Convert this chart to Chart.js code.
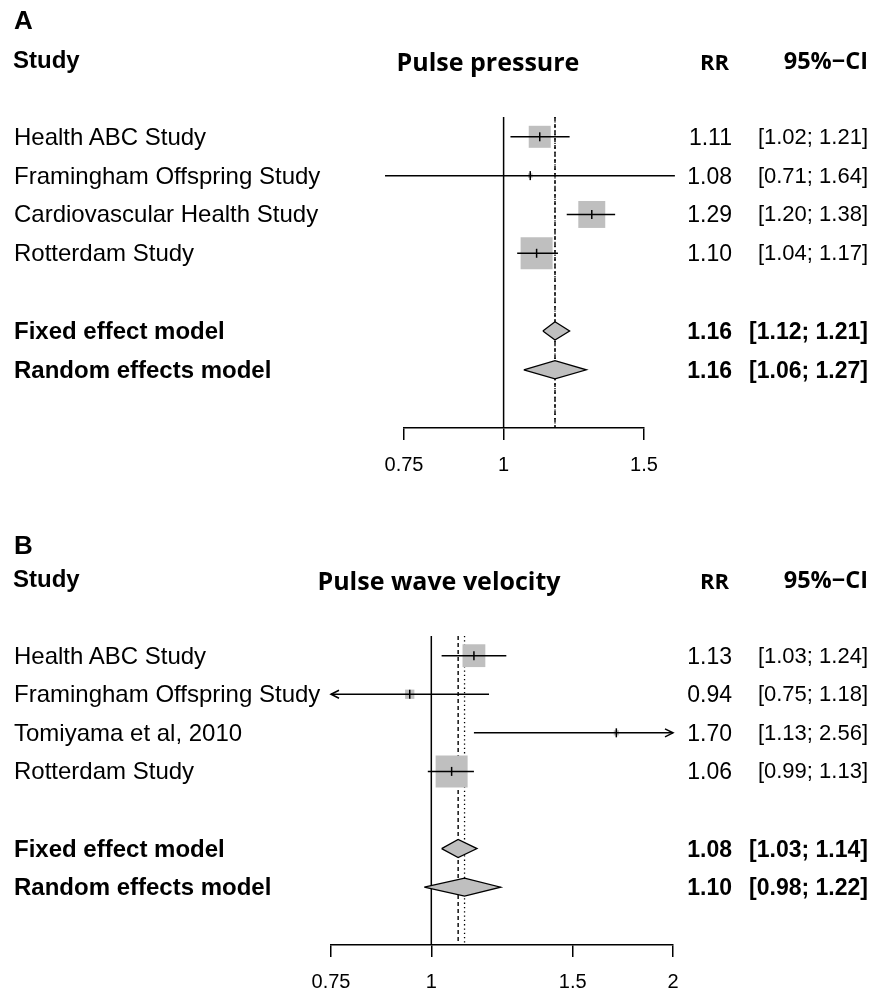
<!DOCTYPE html>
<html><head><meta charset="utf-8">
<script src="https://cdn.jsdelivr.net/npm/chart.js@4.4.1/dist/chart.umd.min.js"></script>
<style>
html,body{margin:0;padding:0;background:#fff;}
#wrap{position:relative;width:872px;height:992px;overflow:hidden;background:#fff;font-family:"Liberation Sans",Arial,sans-serif;color:#000;}
canvas{position:absolute;left:0;}
.t{position:absolute;white-space:nowrap;line-height:1;transform:translateY(-50%);font-size:24px;}
.v{font-size:23px;}
.ci{font-size:22px;}
.b{font-weight:bold;}
.bci{font-weight:bold;font-size:23px;}
.r{transform:translate(-100%,-50%);}
.c{transform:translate(-50%,-50%);}
.h{font-family:"Open Sans",sans-serif;font-weight:bold;font-size:22px;}
.hc{font-size:23.5px;}
.ht{font-size:25px;}
.p{font-weight:bold;font-size:26px;}
</style></head>
<body><div id="wrap">
<canvas id="cA" width="872" height="500" style="top:0"></canvas>
<canvas id="cB" width="872" height="480" style="top:518px"></canvas>
</div>
<script>
// ---- Panel A: Pulse pressure ----
const studiesA = ['Health ABC Study', 'Framingham Offspring Study', 'Cardiovascular Health Study', 'Rotterdam Study'];
const rrA = [1.11, 1.08, 1.29, 1.10];
const lowerA = [1.02, 0.71, 1.20, 1.04];
const upperA = [1.21, 1.64, 1.38, 1.17];
const weightA = [21.5, 0.9, 32.2, 45.4];
const modelsA = ['Fixed effect model', 'Random effects model'];
const modelRrA = [1.16, 1.16];
const modelLowerA = [1.12, 1.06];
const modelUpperA = [1.21, 1.27];
const ticksA = [0.75, 1, 1.5];
const tickLabelsA = ['0.75', '1', '1.5'];

// ---- Panel B: Pulse wave velocity ----
const studiesB = ['Health ABC Study', 'Framingham Offspring Study', 'Tomiyama et al, 2010', 'Rotterdam Study'];
const rrB = [1.13, 0.94, 1.70, 1.06];
const lowerB = [1.03, 0.75, 1.13, 0.99];
const upperB = [1.24, 1.18, 2.56, 1.13];
const weightB = [31.4, 5.2, 1.6, 61.8];
const modelsB = ['Fixed effect model', 'Random effects model'];
const modelRrB = [1.08, 1.10];
const modelLowerB = [1.03, 0.98];
const modelUpperB = [1.14, 1.22];
const ticksB = [0.75, 1, 1.5, 2];
const tickLabelsB = ['0.75', '1', '1.5', '2'];

const fmt = v => v.toFixed(2);
const wrap = document.getElementById('wrap');
function addText(txt, x, y, cls) {
  const d = document.createElement('div');
  d.className = 't ' + cls;
  d.textContent = txt;
  d.style.left = x + 'px';
  d.style.top = y + 'px';
  wrap.appendChild(d);
}

const GRAY = '#bfbfbf';
const Y_MIN = -0.51, Y_MAX = 7.5;
const MAX_BOX = 32;
const DIAMOND_H = 0.235;

function buildPanel(p) {
  const n = p.studies.length;
  const maxW = Math.max(...p.weight);
  const ds = [];
  // reference lines (drawn first)
  ds.push({data: [{x: 1, y: Y_MIN}, {x: 1, y: Y_MAX}], borderColor: '#000', borderWidth: 1.5, pointRadius: 0, order: 20});
  ds.push({data: [{x: p.mRr[0], y: Y_MIN}, {x: p.mRr[0], y: Y_MAX}], borderColor: '#000', borderWidth: 1.4, borderDash: [4, 3], pointRadius: 0, order: 19});
  ds.push({data: [{x: p.mRr[1], y: Y_MIN}, {x: p.mRr[1], y: Y_MAX}], borderColor: '#000', borderWidth: 1.3, borderDash: [1.3, 3], pointRadius: 0, order: 18});
  // squares
  ds.push({data: p.rr.map((v, i) => ({x: v, y: i})), showLine: false, pointStyle: 'rect',
    pointRadius: p.weight.map(w => MAX_BOX * Math.sqrt(w / maxW) / (2 * Math.SQRT1_2)),
    pointBackgroundColor: GRAY, pointBorderWidth: 0, order: 15});
  // CI lines
  p.rr.forEach((v, i) => {
    ds.push({data: [{x: Math.max(p.lo[i], p.clip[0]), y: i}, {x: Math.min(p.hi[i], p.clip[1]), y: i}],
      borderColor: '#000', borderWidth: 1.5, pointRadius: 0, order: 10});
  });
  // estimate tick marks
  ds.push({data: p.rr.map((v, i) => ({x: v, y: i})), showLine: false, pointStyle: 'line', pointRotation: 90,
    pointRadius: 4.5, pointBorderColor: '#000', pointBorderWidth: 1.5, order: 8});
  // diamonds
  p.mRr.forEach((v, k) => {
    const y = n + 1 + k;
    ds.push({data: [{x: p.mLo[k], y: y}, {x: v, y: y - DIAMOND_H}, {x: p.mHi[k], y: y}, {x: v, y: y + DIAMOND_H}, {x: p.mLo[k], y: y}],
      borderColor: '#000', borderWidth: 1.3, backgroundColor: GRAY, fill: 'shape', pointRadius: 0, tension: 0, order: 2});
  });
  ds.forEach(d => { d.clip = false; });

  const arrowPlugin = {
    id: 'arrows' + p.id,
    afterDatasetsDraw(chart) {
      const xs = chart.scales.x, ys = chart.scales.y, ctx = chart.ctx;
      ctx.save();
      ctx.strokeStyle = '#000'; ctx.lineWidth = 1.5;
      p.rr.forEach((v, i) => {
        const y = ys.getPixelForValue(i);
        if (p.lo[i] <= p.clip[0]) {
          const x = xs.getPixelForValue(p.clip[0]);
          ctx.beginPath(); ctx.moveTo(x + 8, y - 4); ctx.lineTo(x, y); ctx.lineTo(x + 8, y + 4); ctx.stroke();
        }
        if (p.hi[i] >= p.clip[1]) {
          const x = xs.getPixelForValue(p.clip[1]);
          ctx.beginPath(); ctx.moveTo(x - 8, y - 4); ctx.lineTo(x, y); ctx.lineTo(x - 8, y + 4); ctx.stroke();
        }
      });
      ctx.restore();
    }
  };

  const chart = new Chart(document.getElementById(p.canvas), {
    type: 'line',
    data: {datasets: ds},
    options: {
      responsive: false, animation: false, events: [],
      layout: {padding: p.pad},
      plugins: {legend: {display: false}, tooltip: {enabled: false}},
      scales: {
        x: {type: 'logarithmic', min: p.ticks[0], max: p.ticks[p.ticks.length - 1],
          afterBuildTicks: s => { s.ticks = p.ticks.map(v => ({value: v})); },
          afterFit: s => { s.height = 48; },
          border: {display: true, color: '#000', width: 1.5},
          grid: {display: true, drawOnChartArea: false, drawTicks: true, tickLength: 12, color: '#000', lineWidth: 1.5},
          ticks: {autoSkip: false, maxRotation: 0, padding: 13, color: '#000',
            font: {family: 'Liberation Sans', size: 20},
            callback: (v, i) => p.tickLabels[i]}
        },
        y: {type: 'linear', display: false, reverse: true, min: Y_MIN, max: Y_MAX}
      }
    },
    plugins: [arrowPlugin]
  });

  const ys = chart.scales.y;
  const row = i => ys.getPixelForValue(i) + p.top;
  const y0 = row(0);
  addText(p.letter, 14, y0 - p.letterOff, 'p');
  addText('Study', 13, y0 - 77, 'b');
  addText(p.title, p.titleX, y0 - 76, 'h ht c');
  addText('RR', 729, y0 - 76, 'h r');
  addText('95%\u2212CI', 868, y0 - 76, 'h hc r');
  p.studies.forEach((s, i) => {
    addText(s, 14, row(i), '');
    addText(fmt(p.rr[i]), 732, row(i), 'v r');
    addText('[' + fmt(p.lo[i]) + '; ' + fmt(p.hi[i]) + ']', 868, row(i), 'ci r');
  });
  p.models.forEach((m, k) => {
    const y = row(n + 1 + k);
    addText(m, 14, y, 'b');
    addText(fmt(p.mRr[k]), 732, y, 'v b r');
    addText('[' + fmt(p.mLo[k]) + '; ' + fmt(p.mHi[k]) + ']', 868, y, 'bci r');
  });
}

buildPanel({id: 'A', canvas: 'cA', top: 0, letter: 'A', letterOff: 117, title: 'Pulse pressure', titleX: 488,
  studies: studiesA, rr: rrA, lo: lowerA, hi: upperA, weight: weightA,
  models: modelsA, mRr: modelRrA, mLo: modelLowerA, mHi: modelUpperA,
  ticks: ticksA, tickLabels: tickLabelsA, clip: [0.6, 1.8],
  pad: {top: 117, bottom: 24, left: 404, right: 228}});

buildPanel({id: 'B', canvas: 'cB', top: 518, letter: 'B', letterOff: 111, title: 'Pulse wave velocity', titleX: 439,
  studies: studiesB, rr: rrB, lo: lowerB, hi: upperB, weight: weightB,
  models: modelsB, mRr: modelRrB, mLo: modelLowerB, mHi: modelUpperB,
  ticks: ticksB, tickLabels: tickLabelsB, clip: [0.75, 2],
  pad: {top: 118, bottom: 5, left: 331, right: 199}});
</script>
</body></html>
